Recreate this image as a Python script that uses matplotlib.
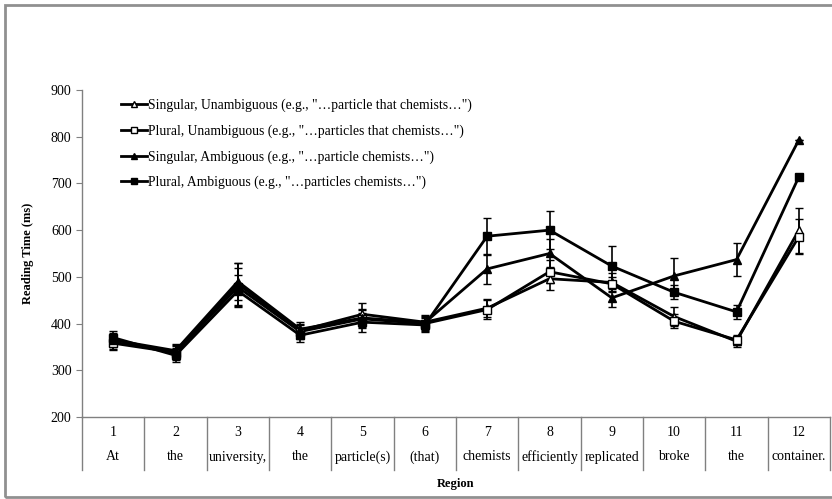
import matplotlib
matplotlib.use("Agg")
import matplotlib.pyplot as plt
import matplotlib.transforms as mtransforms
from matplotlib.patches import Rectangle
from matplotlib.lines import Line2D

plt.rcParams['font.family'] = ['Liberation Serif', 'DejaVu Serif']

regions = [1, 2, 3, 4, 5, 6, 7, 8, 9, 10, 11, 12]
words = ['At', 'the', 'university,', 'the', 'particle(s)', '(that)', 'chemists',
         'efficiently', 'replicated', 'broke', 'the', 'container.']

sing_unamb = [360, 340, 485, 385, 420, 403, 433, 496, 488, 415, 362, 600]
plur_unamb = [358, 338, 478, 383, 410, 400, 430, 511, 485, 405, 365, 586]
sing_amb = [365, 342, 490, 388, 412, 402, 517, 550, 455, 502, 537, 793]
plur_amb = [370, 332, 470, 375, 403, 397, 587, 600, 523, 467, 425, 714]

sing_unamb_err = [15, 15, 45, 15, 25, 15, 20, 25, 20, 20, 12, 48]
plur_unamb_err = [15, 15, 40, 15, 20, 15, 20, 25, 15, 15, 10, 37]
sing_amb_err = [15, 15, 40, 15, 20, 15, 32, 30, 20, 38, 35, 0]
plur_amb_err = [15, 15, 35, 15, 20, 15, 40, 40, 43, 15, 15, 0]

labels = ['Singular, Unambiguous (e.g., "\u2026particle that chemists\u2026")',
          'Plural, Unambiguous (e.g., "\u2026particles that chemists\u2026")',
          'Singular, Ambiguous (e.g., "\u2026particle chemists\u2026")',
          'Plural, Ambiguous (e.g., "\u2026particles chemists\u2026")']

fig = plt.figure(figsize=(8.32, 4.99), dpi=100)
ax = fig.add_axes([82 / 832, 1 - 417 / 499, (830 - 82) / 832, (417 - 90) / 499])

series = [(sing_unamb, sing_unamb_err, '^', 'white'),
          (plur_unamb, plur_unamb_err, 's', 'white'),
          (sing_amb, sing_amb_err, '^', 'black'),
          (plur_amb, plur_amb_err, 's', 'black')]

handles = []
for (vals, err, mk, fc), lab in zip(series, labels):
    ax.errorbar(regions, vals, yerr=err, color='black', lw=2, marker=mk,
                markersize=6, markerfacecolor=fc, markeredgecolor='black',
                markeredgewidth=1, ecolor='black', elinewidth=1.2,
                capsize=3, capthick=1.2)
    handles.append(Line2D([], [], color='black', lw=2, marker=mk, markersize=5,
                          markerfacecolor=fc, markeredgecolor='black',
                          markeredgewidth=1, label=lab))

ax.set_xlim(0.5, 12.5)
ax.set_ylim(200, 900)
ax.set_yticks(range(200, 1000, 100))
ax.tick_params(axis='y', labelsize=10, length=4, color='#808080', direction='out')
ax.set_xticks([])
for s in ['top', 'right']:
    ax.spines[s].set_visible(False)
for s in ['left', 'bottom']:
    ax.spines[s].set_color('#808080')
    ax.spines[s].set_linewidth(1)

# category table below the axis
trans = mtransforms.blended_transform_factory(ax.transData, ax.transAxes)
row_h = 1 / 327
for b in [r - 0.5 for r in regions] + [12.5]:
    ax.plot([b, b], [0, -53 * row_h], transform=trans, color='#808080',
            lw=1, clip_on=False)
for r, w in zip(regions, words):
    ax.text(r, -16 * row_h, str(r), transform=trans, ha='center', va='center',
            fontsize=10)
    ax.text(r, -40 * row_h, w, transform=trans, ha='center', va='center',
            fontsize=10)

ax.text(6.5, -67 * row_h, 'Region', transform=trans, ha='center', va='center',
        fontsize=9, fontweight='bold')
ax.set_ylabel('Reading Time (ms)', fontsize=9, fontweight='bold', labelpad=12)

ax.legend(handles=handles, loc='upper left', bbox_to_anchor=(0.045, 0.99),
          frameon=False, fontsize=9.8, handlelength=1.9, handletextpad=0.1,
          labelspacing=0.9, borderaxespad=0)

fig.add_artist(Rectangle((5 / 832, 2 / 499), 1.0, 1 - 7 / 499,
                         transform=fig.transFigure, fill=False,
                         edgecolor='#909090', lw=2))

fig.savefig('out.png', dpi=100)
